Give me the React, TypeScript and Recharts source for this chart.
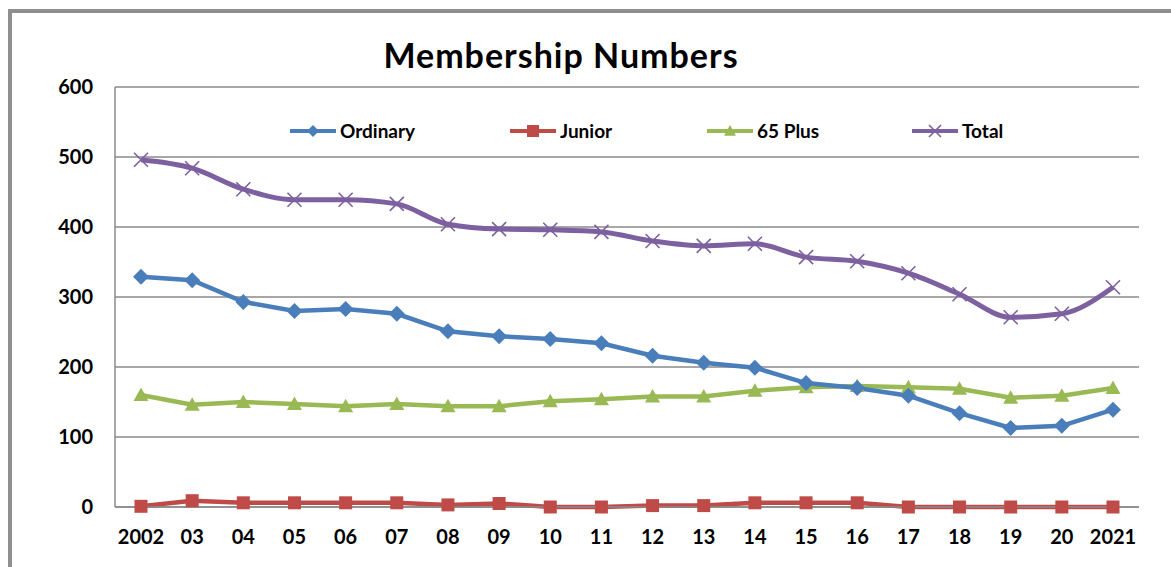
import React from 'react';
import { LineChart, Line, XAxis, YAxis, CartesianGrid, Legend } from 'recharts';

const years = ['2002', '03', '04', '05', '06', '07', '08', '09', '10', '11', '12', '13', '14', '15', '16', '17', '18', '19', '20', '2021'];
const ordinary = [329, 324, 293, 280, 283, 276, 251, 244, 240, 234, 216, 206, 199, 177, 170, 159, 134, 113, 116, 139];
const junior = [1, 9, 6, 6, 6, 6, 3, 5, 0, 0, 2, 2, 6, 6, 6, 0, 0, 0, 0, 0];
const plus65 = [160, 146, 150, 147, 144, 147, 144, 144, 151, 154, 158, 158, 166, 171, 173, 171, 169, 156, 159, 170];
const total = [496, 484, 454, 439, 439, 433, 404, 397, 396, 393, 380, 373, 376, 357, 351, 334, 304, 271, 276, 314];
const yTicks = [0, 100, 200, 300, 400, 500, 600];

const data = years.map((year, i) => ({
  year,
  ordinary: ordinary[i],
  junior: junior[i],
  plus65: plus65[i],
  total: total[i],
}));

const FONT = "Lato, 'Open Sans', sans-serif";

const BLUE = '#4A7EBB';
const RED = '#BE4B48';
const GREEN = '#98B954';
const PURPLE = '#7D60A0';

type Shape = 'diamond' | 'square' | 'triangle' | 'cross';

function markerPath(shape: Shape, cx: number, cy: number, r: number) {
  if (shape === 'diamond') return `M${cx},${cy - r} L${cx + r},${cy} L${cx},${cy + r} L${cx - r},${cy} Z`;
  if (shape === 'square') return `M${cx - r},${cy - r} H${cx + r} V${cy + r} H${cx - r} Z`;
  if (shape === 'triangle') return `M${cx},${cy - r} L${cx + r},${cy + r * 0.8} L${cx - r},${cy + r * 0.8} Z`;
  return `M${cx - r},${cy - r} L${cx + r},${cy + r} M${cx + r},${cy - r} L${cx - r},${cy + r}`;
}

function Marker({ shape, cx, cy, color, r }: { shape: Shape; cx: number; cy: number; color: string; r: number }) {
  if (shape === 'cross') {
    return <path d={markerPath(shape, cx, cy, r)} stroke={color} strokeWidth={1.6} fill="none" />;
  }
  return <path d={markerPath(shape, cx, cy, r)} fill={color} stroke="none" />;
}

const makeDot = (shape: Shape, color: string, r: number) => (props: any) => {
  const { cx, cy, index } = props;
  if (cx == null || cy == null) return <g key={index} />;
  return <Marker key={index} shape={shape} cx={cx} cy={cy} color={color} r={r} />;
};

// width = legend slot each entry occupies (matches Excel's spacing)
const legendItems: { label: string; color: string; shape: Shape; width?: number }[] = [
  { label: 'Ordinary', color: BLUE, shape: 'diamond', width: 220 },
  { label: 'Junior', color: RED, shape: 'square', width: 197 },
  { label: '65 Plus', color: GREEN, shape: 'triangle', width: 205 },
  { label: 'Total', color: PURPLE, shape: 'cross' },
];

function ChartLegend() {
  return (
    <div style={{ display: 'flex', alignItems: 'center', fontFamily: FONT, fontWeight: 700, fontSize: 19, color: '#000' }}>
      {legendItems.map((it) => (
        <div key={it.label} style={{ display: 'flex', alignItems: 'center', gap: 4, width: it.width }}>
          <svg width={46} height={18}>
            <line x1={0} y1={9} x2={46} y2={9} stroke={it.color} strokeWidth={4} />
            <Marker shape={it.shape} cx={23} cy={9} color={it.color} r={6} />
          </svg>
          <span>{it.label}</span>
        </div>
      ))}
    </div>
  );
}

export default function App() {
  return (
    <div style={{ position: 'absolute', left: 0, top: 0, width: 1171, height: 567, background: '#fff', overflow: 'hidden' }}>
      {/* sheet frame */}
      <div
        style={{
          position: 'absolute',
          left: 8,
          top: 9,
          width: 1300,
          height: 700,
          borderTop: '4px solid #8f8f8f',
          borderLeft: '4px solid #8f8f8f',
        }}
      />
      <div
        style={{
          position: 'absolute',
          left: 0,
          width: 1122,
          top: 34,
          textAlign: 'center',
          fontFamily: FONT,
          fontWeight: 700,
          fontSize: 34,
          letterSpacing: 1,
          color: '#000',
        }}
      >
        Membership Numbers
      </div>
      <div style={{ position: 'absolute', left: 0, top: 0 }}>
        <LineChart width={1171} height={567} data={data} margin={{ top: 87, right: 32, bottom: 0, left: 55 }}>
          <CartesianGrid vertical={false} stroke="#8a8a8a" strokeWidth={1.5} />
          <XAxis
            dataKey="year"
            height={60}
            padding={{ left: 26, right: 26 }}
            stroke="#8a8a8a"
            strokeWidth={1.5}
            tickLine={false}
            tickSize={0}
            tickMargin={23}
            interval={0}
            tick={{ fill: '#000', fontFamily: FONT, fontWeight: 700, fontSize: 20 }}
          />
          <YAxis
            width={60}
            domain={[0, 600]}
            ticks={yTicks}
            stroke="#8a8a8a"
            strokeWidth={1.5}
            tickLine={false}
            tickSize={0}
            tickMargin={22}
            tick={{ fill: '#000', fontFamily: FONT, fontWeight: 700, fontSize: 20 }}
          />
          <Legend
            layout="horizontal"
            verticalAlign="middle"
            align="center"
            content={() => <ChartLegend />}
            wrapperStyle={{ top: 119, left: 290, width: 'auto' }}
          />
          <Line
            type="linear"
            dataKey="junior"
            stroke={RED}
            strokeWidth={4.5}
            dot={makeDot('square', RED, 6.5)}
            isAnimationActive={false}
          />
          <Line
            type="linear"
            dataKey="plus65"
            stroke={GREEN}
            strokeWidth={4.5}
            dot={makeDot('triangle', GREEN, 7.5)}
            isAnimationActive={false}
          />
          <Line
            type="linear"
            dataKey="ordinary"
            stroke={BLUE}
            strokeWidth={4.5}
            dot={makeDot('diamond', BLUE, 8)}
            isAnimationActive={false}
          />
          <Line
            type="monotone"
            dataKey="total"
            stroke={PURPLE}
            strokeWidth={5}
            dot={makeDot('cross', PURPLE, 7)}
            isAnimationActive={false}
          />
        </LineChart>
      </div>
    </div>
  );
}
